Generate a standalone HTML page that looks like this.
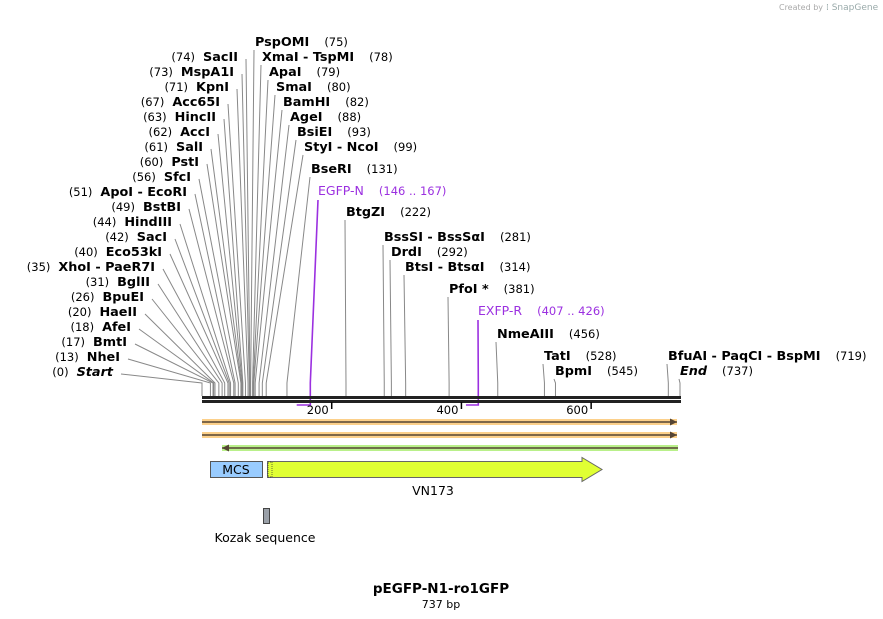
<!DOCTYPE html>
<html><head><meta charset="utf-8"><style>
html,body{margin:0;padding:0;background:#fff;}
svg{display:block;font-family:"DejaVu Sans","Liberation Sans",sans-serif;}
.nm{font-weight:bold;font-size:12.8px;fill:#000;}
.nu{font-size:11.5px;fill:#000;}
</style></head><body>
<svg id="map" width="883" height="619" viewBox="0 0 883 619" xmlns="http://www.w3.org/2000/svg">
<text x="823" y="10" font-size="8" fill="#aaa" text-anchor="end">Created by</text>
<text x="826" y="10" font-size="9" fill="#9aa">⁞ SnapGene</text>
<g id="lines"></g>
<g id="labels"></g>
<g id="axis"></g>
<g id="features"></g>
<text x="441" y="593" text-anchor="middle" font-weight="bold" font-size="13.5">pEGFP-N1-ro1GFP</text>
<text x="441" y="608" text-anchor="middle" font-size="11">737 bp</text>
</svg>
<script>
const seqLength = 737;
const leftNames = ["SacII","MspA1I","KpnI","Acc65I","HincII","AccI","SalI","PstI","SfcI","ApoI  - EcoRI","BstBI","HindIII","SacI","Eco53kI","XhoI  - PaeR7I","BglII","BpuEI","HaeII","AfeI","BmtI","NheI","Start"];
const leftPos = [74,73,71,67,63,62,61,60,56,51,49,44,42,40,35,31,26,20,18,17,13,0];
const rightNames = ["PspOMI","XmaI  - TspMI","ApaI","SmaI","BamHI","AgeI","BsiEI","StyI  - NcoI","BseRI","BtgZI","BssSI  - BssSαI","DrdI","BtsI  - BtsαI","PfoI *","NmeAIII","TatI","BpmI","BfuAI  - PaqCI  - BspMI","End"];
const rightPos = [75,78,79,80,82,88,93,99,131,222,281,292,314,381,456,528,545,719,737];
const primerNames = ["EGFP-N","EXFP-R"];
const primerStart = [146,407];
const primerEnd = [167,426];
const tickValues = [200,400,600];

const X0=202, X1=680;
const xs = bp => X0 + bp*(X1-X0)/seqLength;
const NS="http://www.w3.org/2000/svg";
function mk(tag, attrs, parent){const e=document.createElementNS(NS,tag);for(const k in attrs)e.setAttribute(k,attrs[k]);parent.appendChild(e);return e;}
const gL=document.getElementById('lines'), gT=document.getElementById('labels'), gA=document.getElementById('axis'), gF=document.getElementById('features');
const CY=383, BY=396;

const leftEnd=[238,234,229,220,216,210,203,199,191,187,181,172,167,162,155,150,144,137,131,127,120,113];
leftNames.forEach((n,i)=>{
  const y=57+i*15, ex=leftEnd[i], sx=xs(leftPos[i]);
  const t=mk('text',{x:ex,y:y+4,'text-anchor':'end','xml:space':'preserve'},gT);
  
  
  const a=document.createElementNS(NS,'tspan');a.setAttribute('class','nu');a.textContent='('+leftPos[i]+')';t.appendChild(a);
  const b=document.createElementNS(NS,'tspan');b.setAttribute('class','nm');b.setAttribute('dx','8');b.textContent=n;
  if(n==='Start')b.setAttribute('font-style','italic');
  t.appendChild(b);
  const l=mk('polyline',{points:`${ex+8},${y+2} ${sx},${CY} ${sx},${BY}`,fill:'none',stroke:'#888','stroke-width':1},gL);
  
  
});
const rightX=[255,262,269,276,283,290,297,304,311,346,384,391,405,449,497,544,555,668,680];
const rightY=[42,57,72,87,102,117,132,147,169,212,237,252,267,289,334,356,371,356,371];
rightNames.forEach((n,i)=>{
  const x=rightX[i], y=rightY[i], sx=xs(rightPos[i]);
  const t=mk('text',{x:x,y:y+4,'xml:space':'preserve'},gT);
  
  
  const b=document.createElementNS(NS,'tspan');b.setAttribute('class','nm');b.textContent=n;
  if(n==='End')b.setAttribute('font-style','italic');
  t.appendChild(b);
  const a=document.createElementNS(NS,'tspan');a.setAttribute('class','nu');a.setAttribute('dx','15');a.textContent='('+rightPos[i]+')';t.appendChild(a);
  const l=mk('polyline',{points:`${x-1},${y+8} ${sx},${CY} ${sx},${BY}`,fill:'none',stroke:'#888','stroke-width':1},gL);
  
  
});
const primerLX=[318,478], primerLY=[191,311];
primerNames.forEach((n,i)=>{
  const t=mk('text',{x:primerLX[i],y:primerLY[i]+4,fill:'#9b30e0','font-size':12.5,'xml:space':'preserve'},gT);
  
  
  t.textContent=n;
  const a=document.createElementNS(NS,'tspan');a.setAttribute('dx','15');a.setAttribute('font-size','11.5');a.textContent='('+primerStart[i]+' .. '+primerEnd[i]+')';t.appendChild(a);
  const e=xs(primerEnd[i]), s=xs(primerStart[i]);
  const l=mk('polyline',{points:`${primerLX[i]},${primerLY[i]+9} ${e},${CY} ${e},405 ${s},405`,fill:'none',stroke:'#9b30e0','stroke-width':1.6},gL);
  
  
});
let r=mk('rect',{x:X0,y:396,width:X1-X0+1,height:3,fill:'#222'},gA);

r=mk('rect',{x:X0,y:400,width:X1-X0+1,height:3,fill:'#222'},gA);

tickValues.forEach(v=>{
  const x=xs(v);
  const l=mk('line',{x1:x,y1:402,x2:x,y2:409,stroke:'#000','stroke-width':1.5},gA);
  
  const t=mk('text',{x:x-3,y:414,'text-anchor':'end','font-size':11.5},gA);
  
  t.textContent=v;
});
function arrowLine(y,x1,x2,glow,dir,name){
  const g=mk('g',{},gF);
  
  mk('rect',{x:Math.min(x1,x2),y:y-3,width:Math.abs(x2-x1),height:6,fill:glow},g);
  mk('line',{x1:x1,y1:y,x2:x2,y2:y,stroke:'#554433','stroke-width':1.5},g);
  mk('polygon',{points:`${x2},${y} ${x2-dir*7},${y-3.5} ${x2-dir*7},${y+3.5}`,fill:'#554433'},g);
}
arrowLine(422,202,677,'#fcd08a',1,'orf-arrow-1');
arrowLine(435,202,677,'#fcd08a',1,'orf-arrow-2');
arrowLine(448,678,222,'#b9f08a',-1,'orf-arrow-reverse');
const mcs=mk('g',{},gF);
mk('rect',{x:210.5,y:461.5,width:52,height:16,fill:'#99ccff',stroke:'#555'},mcs);
const mt=mk('text',{x:236,y:474,'text-anchor':'middle','font-size':12.5},mcs);mt.textContent='MCS';
const vn=mk('g',{},gF);
mk('polygon',{points:'267.5,461.5 582,461.5 582,457.5 602,469.5 582,481.5 582,477.5 267.5,477.5',fill:'#e0ff33',stroke:'#666'},vn);
mk('rect',{x:268,y:462,width:4,height:15,fill:'#e0ff33',stroke:'#333','stroke-dasharray':'1,1','stroke-width':0.7},vn);
const vt=mk('text',{x:433,y:495,'text-anchor':'middle','font-size':12.5},vn);vt.textContent='VN173';
const kz=mk('g',{},gF);
mk('rect',{x:263.5,y:508.5,width:6,height:15,fill:'#9aa0a8',stroke:'#444'},kz);
const kt=mk('text',{x:265,y:542,'text-anchor':'middle','font-size':12.5},kz);kt.textContent='Kozak sequence';
</script>
</body></html>
